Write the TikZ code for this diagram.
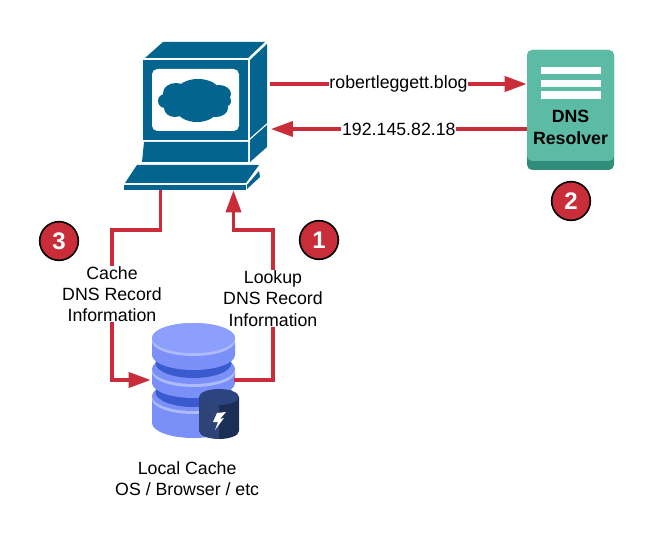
\documentclass[tikz,border=0pt]{standalone}
\usepackage{fontspec}
\setmainfont{Liberation Sans}
\usetikzlibrary{arrows.meta, positioning}

\definecolor{flowred}{HTML}{C92D39}
\definecolor{pcblue}{HTML}{02648F}
\definecolor{resolvergreen}{HTML}{5CBBA5}
\definecolor{resolverdark}{HTML}{2F8E7A}
\definecolor{diskface}{HTML}{8C9FFF}
\definecolor{diskside}{HTML}{7A90F8}
\definecolor{diskrim}{HTML}{AEBBFF}
\definecolor{diskgap}{HTML}{3A5AD0}
\definecolor{drumtop}{HTML}{2C4480}
\definecolor{drumleft}{HTML}{2E4377}
\definecolor{drumright}{HTML}{1B2E55}

\tikzset{
  flow/.style={draw=flowred, line width=2.6pt},
  flowtip/.style={flow, -{Triangle[length=16.5pt, width=11.25pt]}},
  netlabel/.style={fill=white, inner sep=0.5pt, font=\fontsize{13.3}{16}\selectfont},
  textblock/.style={align=center, inner sep=0pt, font=\fontsize{13.3}{16}\selectfont},
  badge/.style={circle, fill=flowred, draw=black, line width=1.2pt, minimum size=29pt, inner sep=0pt,
    text=white, font=\fontsize{18}{18}\selectfont\bfseries},
  region/.style={inner sep=0pt, minimum width=#1},
}

\begin{document}
\begin{tikzpicture}[x=0.75pt, y=-0.75pt]
\useasboundingbox (0,0) rectangle (660,559);

% computer
\node[region=107.25pt, minimum height=111pt] (computer) at (195.5,116) {};
\fill[pcblue] (145,58) -- (163,42) -- (265,42) -- (248,58) -- cycle;
\fill[pcblue] (143,60) rectangle (248,140);
\fill[white, rounded corners=4pt] (152,69) rectangle (239,131);
\fill[pcblue] (250,60) -- (267,44) -- (267,123) -- (250,138) -- cycle;
\fill[pcblue] (144,142) -- (248,142) -- (248,162) -- (142,162) -- cycle;
\fill[pcblue] (250,140) -- (267,125) -- (267,147) -- (250,162) -- cycle;
\fill[pcblue] (137,165) -- (259,165) -- (246,183) -- (125,183) -- cycle;
\fill[pcblue] (124,185) rectangle (246,190);
\fill[pcblue] (247,185) -- (259,171) -- (260,177) -- (247,189) -- cycle;
\foreach \cx/\cy/\rx/\ry in {198/91/21/12, 176/93/13/10, 219/94/12/9, 165/101/7/7, 225/101/6/6,
    195/101/30/12, 175/108/11/9, 216/108/12/9, 197/110/20/12}
  \fill[pcblue] (\cx,\cy) ellipse [x radius=\rx, y radius=\ry];

% resolver
\node[region=65.25pt, minimum height=90pt, fill=resolverdark, rounded corners=4pt] (resolver) at (570.5,110) {};
\fill[resolvergreen, rounded corners=4pt] (527,50) rectangle (614,161);
\foreach \ytop/\ybot in {67/74, 80/87, 91/99}
  \fill[white] (541,\ytop) rectangle (601,\ybot);
\node[textblock, font=\fontsize{13.3}{16}\selectfont\bfseries] (resolvertext) at (570.5,127.5) {DNS\\Resolver};

% local cache
\node[region=62.25pt, minimum height=85.5pt] (cache) at (192.5,380) {};
\foreach \ytop/\ybot/\yface/\fcol/\ygap/\rgap/\gcol in {399/423/396/diskside/392/38/diskgap,
    372/383/369/diskside/363/38/diskgap, 341/355/338/diskface/338/41.5/diskface} {
  \fill[diskside] (152,\ytop) -- (152,\ybot) arc[start angle=180, end angle=0, x radius=41.5, y radius=15] -- (235,\ytop) -- cycle;
  \fill[diskrim] (193.5,\ytop) ellipse [x radius=41.5, y radius=15];
  \fill[\fcol] (193.5,\yface) ellipse [x radius=41.5, y radius=15];
  \fill[\gcol] (193.5,\ygap) ellipse [x radius=\rgap, y radius=15];
}
\fill[drumleft] (199,397) -- (199,431) arc[start angle=180, end angle=90, x radius=20, y radius=8] -- (219,397) -- cycle;
\fill[drumright] (219,397) -- (219,439) arc[start angle=90, end angle=0, x radius=20, y radius=8] -- (239,397) -- cycle;
\fill[drumtop] (219,397) ellipse [x radius=20, y radius=8];
\fill[white] (226,412) -- (217,413) -- (213,422) -- (218,422) -- (215,430) -- (224,418) -- (220,419) -- cycle;

% text blocks
\node[textblock] (cachetext) at (112,294) {Cache\\DNS Record\\Information};
\node[textblock] (lookuptext) at (273,298.5) {Lookup\\DNS Record\\Information};
\node[textblock, below = 31pt of cache.south, anchor=center, xshift=-4pt] (localtext) {Local Cache\\OS / Browser / etc};

\coordinate (elbow) at (0,230);

% connectors
\draw[flowtip] ([xshift=2.25pt, yshift=24pt] computer.east) -- node[netlabel] {robertleggett.blog} ([yshift=24pt] computer.east -| resolver.west);
\draw[flowtip] ([yshift=-9.75pt] computer.east -| resolver.west) -- node[netlabel] {192.145.82.18} ([xshift=2.75pt, yshift=-9.75pt] computer.east);

\draw[flow] (cache.east) -| (lookuptext.south);
\draw[flowtip] (lookuptext.north) -- (lookuptext.north |- elbow) -| ([xshift=28.5pt] computer.south);
\draw[flow] ([xshift=-26.25pt] computer.south) |- (elbow -| cachetext.north) -- (cachetext.north);
\draw[flowtip] (cachetext.south) |- (cache.west);

% badges
\node[badge] (stepone) at (319,240) {1};
\node[badge] (steptwo) at (571,201) {2};
\node[badge] (stepthree) at (59,241) {3};
\end{tikzpicture}
\end{document}
